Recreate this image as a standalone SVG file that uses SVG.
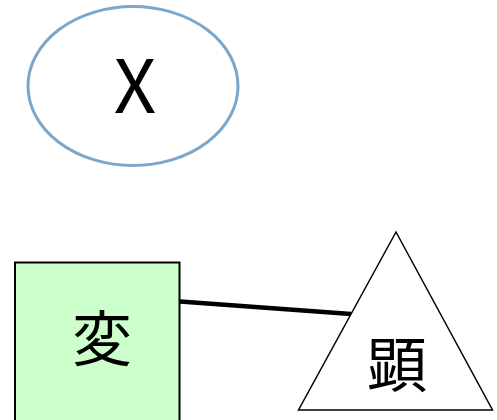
<svg xmlns="http://www.w3.org/2000/svg" width="497" height="420" viewBox="0 0 497 420">
<style>
text{font-family:"Noto Sans CJK JP","Noto Sans",sans-serif;fill:#000;text-anchor:middle}
.lbl{font-size:60px}
</style>
<rect width="497" height="420" fill="#fff"/>
<g id="connectors">
<line x1="180" y1="301.5" x2="351" y2="314" stroke="#000" stroke-width="4.5"/>
</g>
<g id="nodeX">
<ellipse cx="133" cy="86" rx="105" ry="79.5" fill="#fff" stroke="#7ba7cc" stroke-width="3"/>
<text x="135" y="113" font-size="74">X</text>
</g>
<g id="nodeHen">
<rect x="15" y="262.5" width="164.5" height="165" fill="#ccffcc" stroke="#000" stroke-width="2"/>
<text class="lbl" x="102" y="361">変</text>
</g>
<g id="nodeKen">
<polygon points="396,232 298.5,410 492.5,410" fill="#fff" stroke="#000" stroke-width="1.5"/>
<text class="lbl" x="397" y="387">顕</text>
</g>
</svg>
